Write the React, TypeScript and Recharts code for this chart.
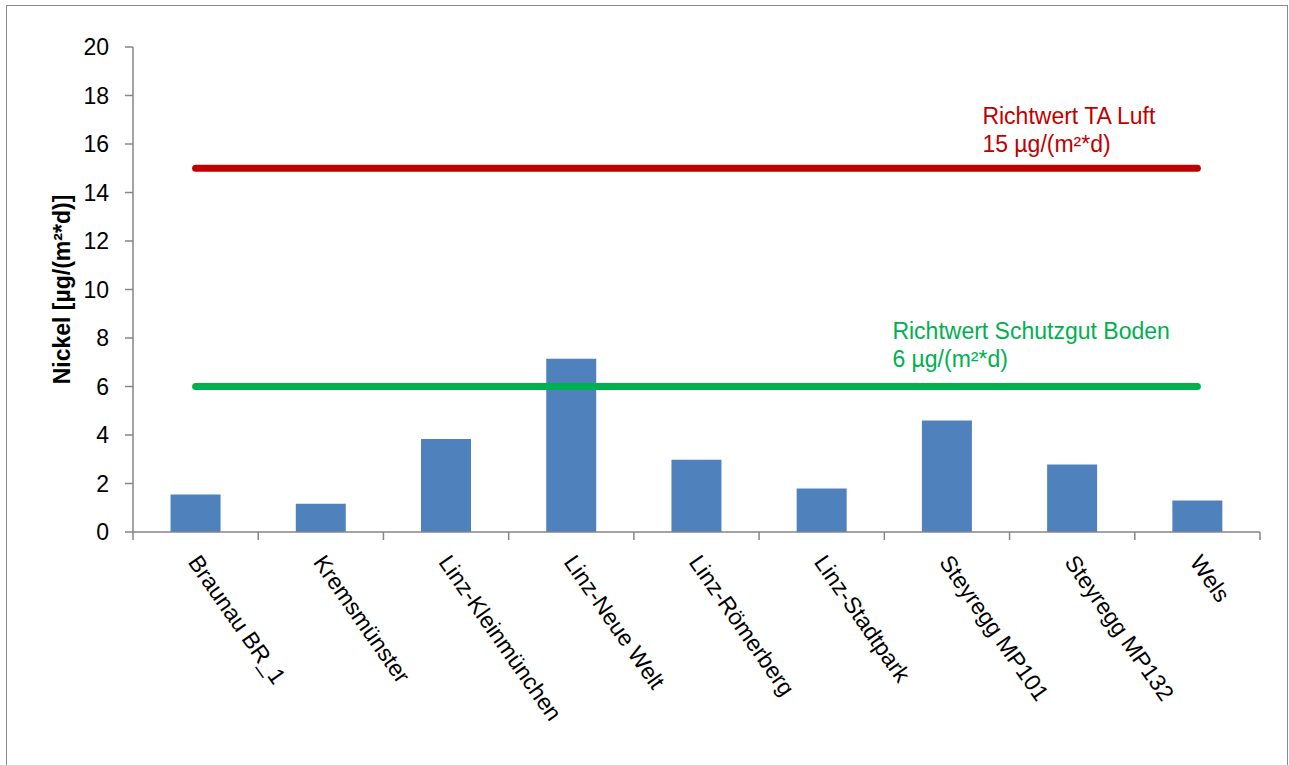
import { ComposedChart, Bar, Line, XAxis, YAxis, Label } from 'recharts';

const stations = [
  'Braunau BR_1',
  'Kremsmünster',
  'Linz-Kleinmünchen',
  'Linz-Neue Welt',
  'Linz-Römerberg',
  'Linz-Stadtpark',
  'Steyregg MP101',
  'Steyregg MP132',
  'Wels',
];
const nickel = [1.55, 1.16, 3.84, 7.14, 2.98, 1.79, 4.6, 2.78, 1.3];
const taLuft = [15, 15, 15, 15, 15, 15, 15, 15, 15];
const boden = [6, 6, 6, 6, 6, 6, 6, 6, 6];
const yTicks = [0, 2, 4, 6, 8, 10, 12, 14, 16, 18, 20];

const data = stations.map((station, i) => ({
  station,
  nickel: nickel[i],
  taLuft: taLuft[i],
  boden: boden[i],
}));

const FONT = '"Liberation Sans", Arial, sans-serif';
const AXIS = '#868686';
const RED = '#C00000';
const GREEN = '#00B050';
const LABEL_GAP = 21;

// category label rotated like Excel, plus the tick marks on the category borders
function StationTick({ x, y, payload, width, visibleTicksCount, index }: any) {
  const band = width / visibleTicksCount;
  const axisY = y - LABEL_GAP;
  const ax = x + 5;
  return (
    <g>
      <line x1={x - band / 2} x2={x - band / 2} y1={axisY} y2={axisY + 8} stroke={AXIS} strokeWidth={1.5} />
      {index === visibleTicksCount - 1 && (
        <line x1={x + band / 2} x2={x + band / 2} y1={axisY} y2={axisY + 8} stroke={AXIS} strokeWidth={1.5} />
      )}
      <text
        x={ax}
        y={y}
        dy="0.71em"
        textAnchor="start"
        transform={`rotate(55, ${ax}, ${y})`}
        fontSize={23}
        fontFamily={FONT}
        fill="#000"
      >
        {payload.value}
      </text>
    </g>
  );
}

// writes the two-line caption above the last point of a limit line
function limitCaption(lines: string[], color: string, dx: number, dy: number) {
  return (props: any) => {
    const { cx, cy, index } = props;
    if (index !== stations.length - 1) return <g key={index} />;
    return (
      <text key={index} x={cx + dx} y={cy + dy} fontSize={23} fontFamily={FONT} fill={color}>
        {lines.map((t, i) => (
          <tspan key={i} x={cx + dx} dy={i === 0 ? 0 : 28}>
            {t}
          </tspan>
        ))}
      </text>
    );
  };
}

export default function App() {
  return (
    <div style={{ position: 'fixed', left: 0, top: 0, width: 1289, height: 765, overflow: 'hidden', background: '#fff' }}>
      <div
        style={{
          position: 'absolute',
          left: 6,
          top: 5,
          width: 1280,
          height: 800,
          border: '1px solid #8a8a8a',
        }}
      />
      <div style={{ position: 'absolute', left: 0, top: 0 }}>
        <ComposedChart
          width={1289}
          height={765}
          data={data}
          margin={{ top: 47, right: 29, left: 0, bottom: 0 }}
          barCategoryGap="30%"
        >
          <XAxis
            dataKey="station"
            interval={0}
            height={233}
            axisLine={{ stroke: AXIS, strokeWidth: 1.5 }}
            tickLine={false}
            tickSize={0}
            tickMargin={LABEL_GAP}
            tick={<StationTick />}
          />
          <YAxis
            width={133}
            domain={[0, 20]}
            ticks={yTicks}
            interval={0}
            tickSize={8}
            tickMargin={16}
            axisLine={{ stroke: AXIS, strokeWidth: 1.5 }}
            tickLine={{ stroke: AXIS, strokeWidth: 1.5 }}
            tick={{ fill: '#000', fontSize: 23, fontFamily: FONT }}
          >
            <Label
              value="Nickel [µg/(m²*d)]"
              angle={-90}
              position="insideLeft"
              offset={62}
              style={{ textAnchor: 'middle', fontWeight: 'bold', fontSize: 23, fontFamily: FONT, fill: '#000' }}
            />
          </YAxis>
          <Bar dataKey="nickel" fill="#4F81BD" isAnimationActive={false} />
          <Line
            dataKey="taLuft"
            stroke={RED}
            strokeWidth={7}
            strokeLinecap="round"
            dot={limitCaption(['Richtwert TA Luft', '15 µg/(m²*d)'], RED, -215, -44)}
            activeDot={false}
            isAnimationActive={false}
          />
          <Line
            dataKey="boden"
            stroke={GREEN}
            strokeWidth={7}
            strokeLinecap="round"
            dot={limitCaption(['Richtwert Schutzgut Boden', '6 µg/(m²*d)'], GREEN, -305, -48)}
            activeDot={false}
            isAnimationActive={false}
          />
        </ComposedChart>
      </div>
    </div>
  );
}
